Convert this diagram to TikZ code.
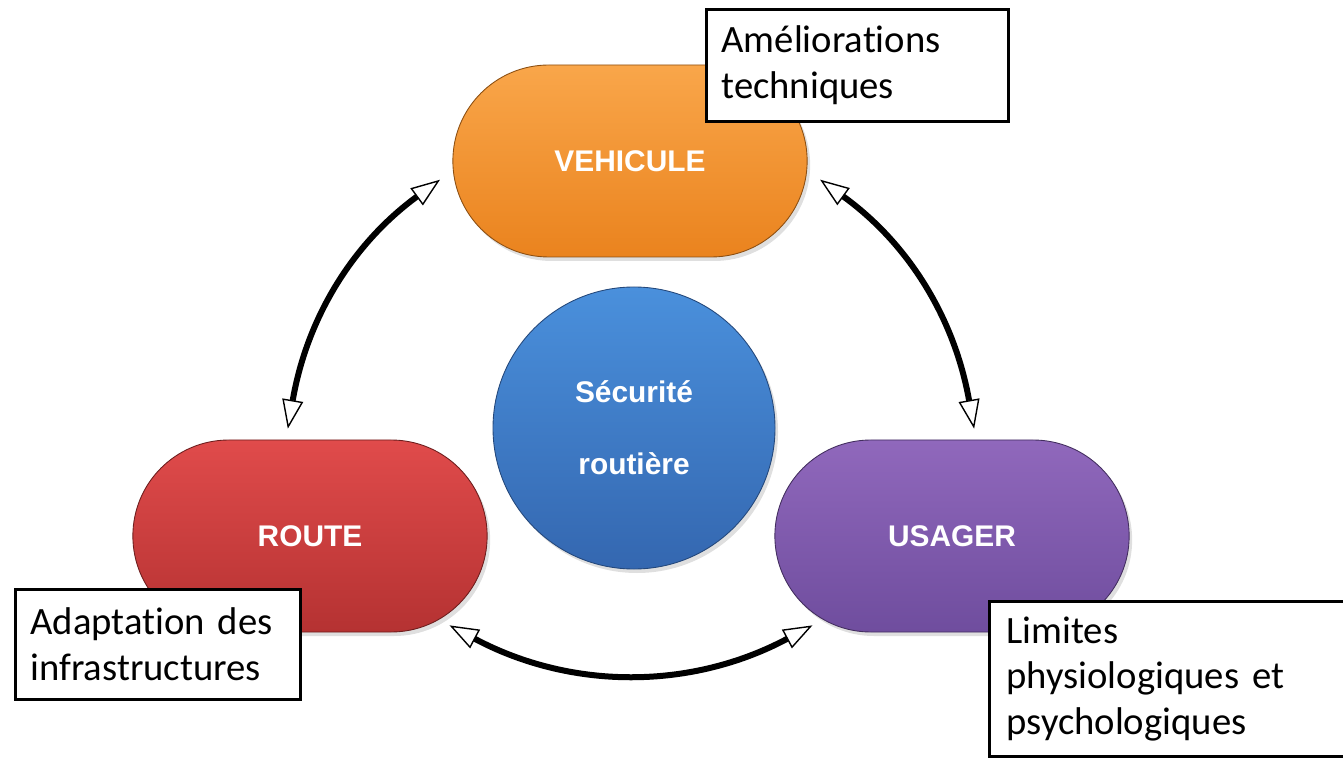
\documentclass[tikz,border=0pt]{standalone}
\usepackage{fontspec}
\setmainfont{Carlito}[Ligatures=NoCommon]
\setsansfont{Liberation Sans}
\usetikzlibrary{arrows.meta,shapes.misc,shadows}

\definecolor{vehtop}{HTML}{F9A64A}
\definecolor{vehbot}{HTML}{EA831E}
\definecolor{routop}{HTML}{E04B4B}
\definecolor{roubot}{HTML}{B53232}
\definecolor{usatop}{HTML}{9068BC}
\definecolor{usabot}{HTML}{6F4D9E}
\definecolor{sectop}{HTML}{4A90DC}
\definecolor{secbot}{HTML}{3467B0}

\tikzset{
    pill/.style={rounded rectangle, minimum width=73.2mm, minimum height=38.4mm,
        text=white, font=\sffamily\bfseries\fontsize{17}{20}\selectfont,
        line width=0.5pt,
        drop shadow={opacity=0.25, shadow xshift=0.6mm, shadow yshift=-0.8mm}},
    note/.style={draw=black, line width=0.6mm, fill=white, align=left,
        font=\fontsize{22}{26}\selectfont, inner xsep=3mm, anchor=north west},
    tip/.tip={Triangle[fill=white, length=5.8mm, width=4.2mm, line width=0.8pt]},
    link/.style={line width=1.2mm, tip-tip}
}

\begin{document}
\begin{tikzpicture}[x=0.2mm, y=0.2mm]
    \useasboundingbox (0,0) rectangle (1343,757);

    \node[pill, top color=vehtop, bottom color=vehbot, draw=vehbot!60!black] (veh) at (630,596) {VEHICULE};
    \node[pill, top color=routop, bottom color=roubot, draw=roubot!60!black] (route) at (310,221) {ROUTE};
    \node[pill, top color=usatop, bottom color=usabot, draw=usabot!60!black] (usager) at (952,221) {USAGER};

    \node[circle, minimum size=56.4mm, top color=sectop, bottom color=secbot,
        draw=secbot!70!black, line width=0.5pt, text=white, align=center,
        font=\sffamily\bfseries\fontsize{17}{41}\selectfont,
        drop shadow={opacity=0.25, shadow xshift=0.6mm, shadow yshift=-0.8mm}] (secu) at (634,329) {Sécurité\\routière};

    \draw[link, shorten <=3.2mm, shorten >=2.2mm] (veh.183) to[bend right=22] (route.104);
    \draw[link, shorten <=3.2mm, shorten >=2.2mm] (veh.357) to[bend left=22] (usager.76);
    \draw[link, shorten <=2.4mm, shorten >=2.4mm] (route.-33) to[bend right=28] (usager.213);

    \node[note, text width=54.4mm, minimum height=22.4mm] (ameli) at (705,749) {Améliorations\\techniques};
    \node[note, text width=51mm, minimum height=22mm] (adapt) at (14,169) {Adaptation des\\infrastructures};
    \node[note, text width=64.4mm, minimum height=31mm, inner xsep=3.4mm] (limites) at (988,157) {Limites\\physiologiques et\\psychologiques};

\end{tikzpicture}
\end{document}
